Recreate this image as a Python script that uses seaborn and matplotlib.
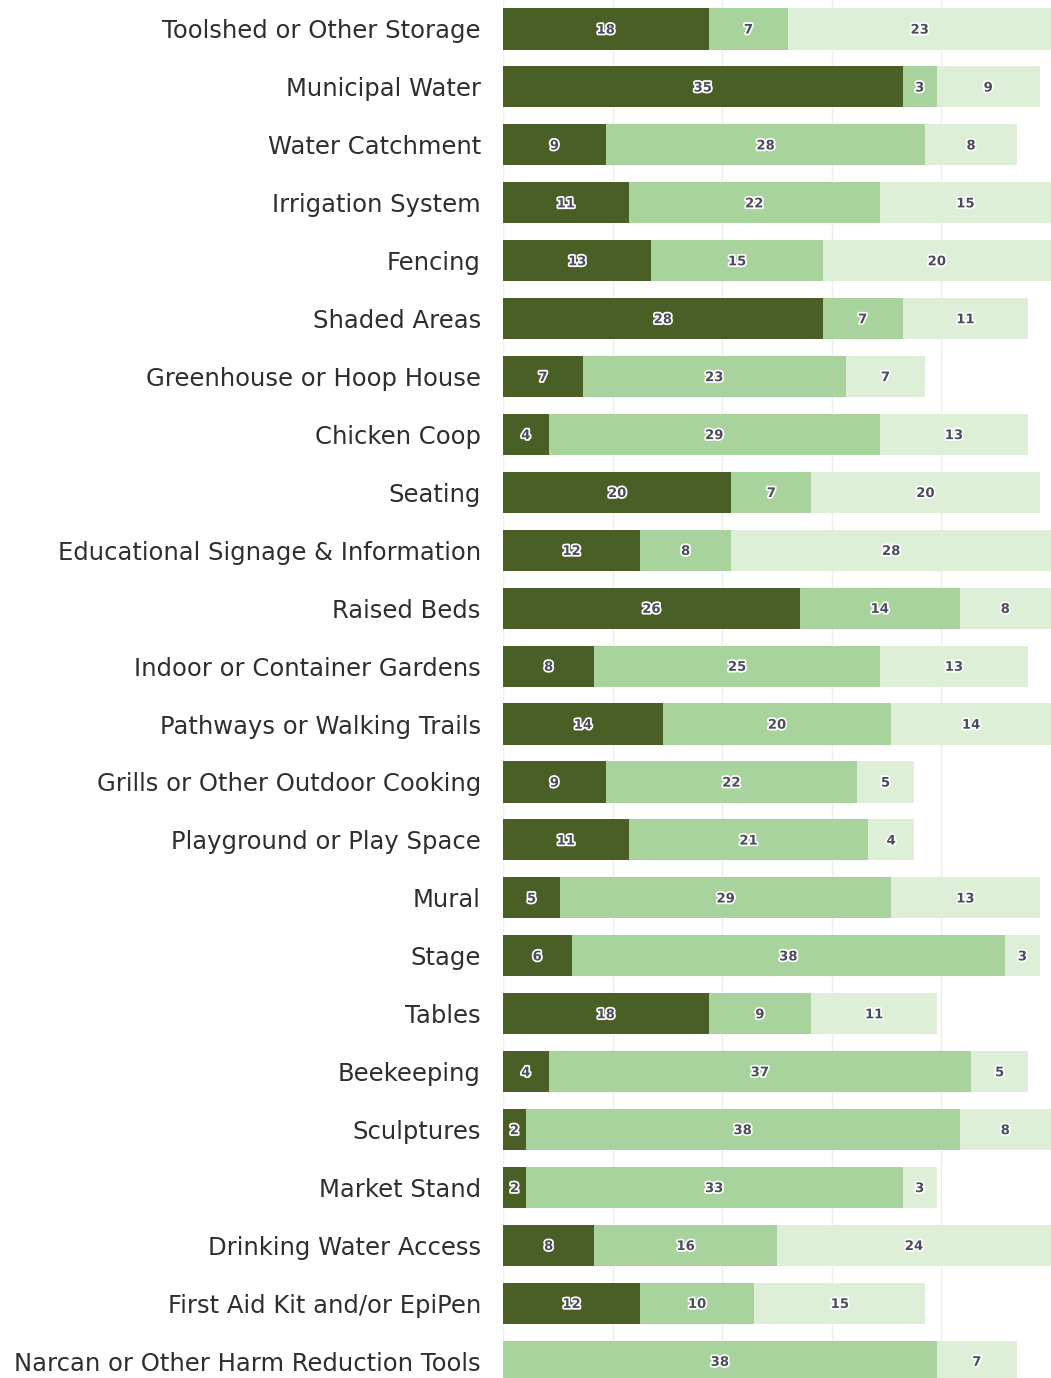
import numpy as np
import pandas as pd
import matplotlib
matplotlib.use("Agg")
import matplotlib.pyplot as plt
import matplotlib.patheffects as pe
import seaborn as sns

categories = [
    "Toolshed or Other Storage", "Municipal Water", "Water Catchment",
    "Irrigation System", "Fencing", "Shaded Areas", "Greenhouse or Hoop House",
    "Chicken Coop", "Seating", "Educational Signage & Information",
    "Raised Beds", "Indoor or Container Gardens", "Pathways or Walking Trails",
    "Grills or Other Outdoor Cooking", "Playground or Play Space", "Mural",
    "Stage", "Tables", "Beekeeping", "Sculptures", "Market Stand",
    "Drinking Water Access", "First Aid Kit and/or EpiPen",
    "Narcan or Other Harm Reduction Tools",
]
dark_vals = [18, 35, 9, 11, 13, 28, 7, 4, 20, 12, 26, 8, 14, 9, 11, 5, 6, 18, 4, 2, 2, 8, 12, 0]
mid_vals = [7, 3, 28, 22, 15, 7, 23, 29, 7, 8, 14, 25, 20, 22, 21, 29, 38, 9, 37, 38, 33, 16, 10, 38]
light_vals = [23, 9, 8, 15, 20, 11, 7, 13, 20, 28, 8, 13, 14, 5, 4, 13, 3, 11, 5, 8, 3, 24, 15, 7]

c_dark = "#4a5f25"
c_mid = "#a8d39c"
c_light = "#ddf0d7"
c_text = "#4b4b5c"

df = pd.DataFrame({"cat": categories, "dark": dark_vals, "mid": mid_vals, "light": light_vals})
df["s1"] = df["dark"]
df["s2"] = df["dark"] + df["mid"]
df["s3"] = df["s2"] + df["light"]

sns.set_style("white")
plt.rcParams["font.family"] = ["DejaVu Sans"]

fig = plt.figure(figsize=(10.51, 13.78), dpi=100)
ax = fig.add_axes([503 / 1051, 0, 1 - 503 / 1051, 1])

# stacked by overdrawing the cumulative totals
sns.barplot(data=df, x="s3", y="cat", color=c_light, saturation=1, width=0.71,
            linewidth=0, ax=ax, zorder=2)
sns.barplot(data=df, x="s2", y="cat", color=c_mid, saturation=1, width=0.71,
            linewidth=0, ax=ax, zorder=3)
sns.barplot(data=df, x="s1", y="cat", color=c_dark, saturation=1, width=0.71,
            linewidth=0, ax=ax, zorder=4)

stroke = [pe.withStroke(linewidth=2.5, foreground="white")]
for i, row in df.iterrows():
    starts = [0, row["s1"], row["s2"]]
    for st, v in zip(starts, [row["dark"], row["mid"], row["light"]]):
        if v > 0:
            ax.text(st + v / 2, i + 0.02, str(v), ha="center", va="center", fontsize=9.5,
                    fontweight="bold", color=c_text, path_effects=stroke, zorder=6)

ax.set_xlim(0, 48)
ax.set_ylim(23.29, -0.50)
ax.set_xticks(np.linspace(0, 48, 6))
ax.set_xticklabels([])
ax.grid(axis="x", color="#eeeeee", linewidth=1, zorder=0)
ax.set_axisbelow(True)
ax.set_xlabel("")
ax.set_ylabel("")
ax.tick_params(axis="y", length=0, pad=16, labelsize=17.5, labelcolor="#2e2e2e")
ax.tick_params(axis="x", length=0)
for s in ax.spines.values():
    s.set_visible(False)

fig.savefig("out.png", dpi=100)
